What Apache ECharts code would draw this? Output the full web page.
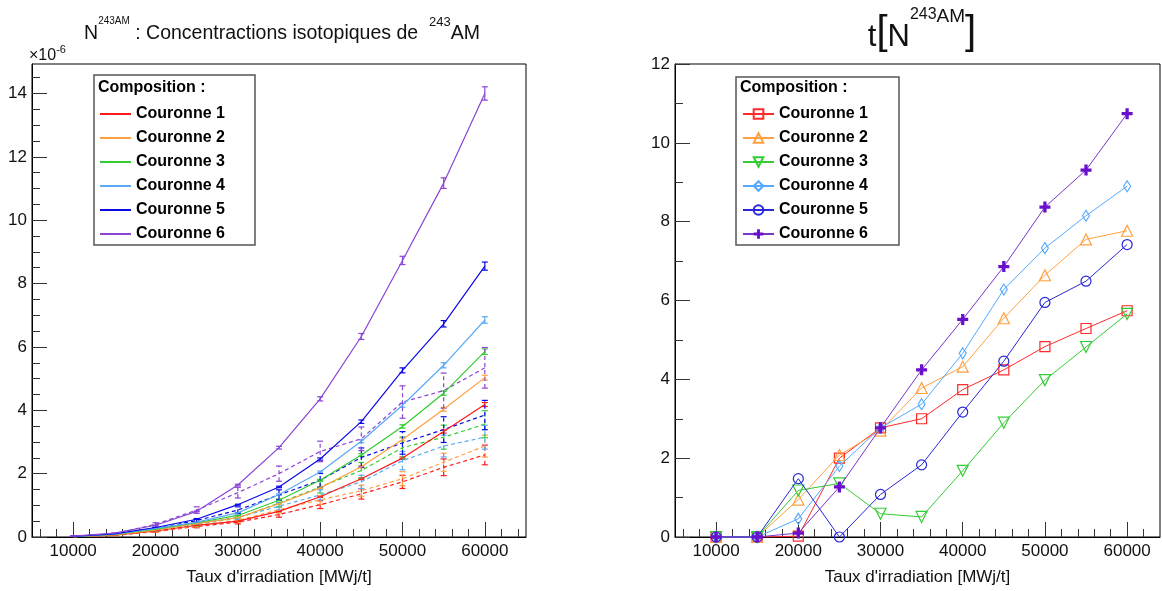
<!DOCTYPE html>
<html><head><meta charset="utf-8">
<script src="https://cdn.jsdelivr.net/npm/echarts@6/dist/echarts.min.js"></script>
<style>
html,body{margin:0;padding:0;background:#fff;width:1163px;height:591px;overflow:hidden}
#left{position:absolute;left:0;top:0;width:581px;height:591px}
#right{position:absolute;left:581px;top:0;width:582px;height:591px}
</style>
</head><body><div id="left"></div><div id="right"></div>
<script>
// ---------- DATA ----------
const irradiation = [10000, 15000, 20000, 25000, 30000, 35000, 40000, 45000, 50000, 55000, 60000];
const seriesNames = ['Couronne 1', 'Couronne 2', 'Couronne 3', 'Couronne 4', 'Couronne 5', 'Couronne 6'];
const xTickValues = [10000, 20000, 30000, 40000, 50000, 60000];
const yTickValuesLeft = [0, 2, 4, 6, 8, 10, 12, 14];
const yTickValuesRight = [0, 2, 4, 6, 8, 10, 12];

// Left: concentrations (x 1e-6), solid curves
const concC1 = [0.01, 0.06, 0.19, 0.37, 0.50, 0.81, 1.27, 1.84, 2.49, 3.33, 4.18];
const concC2 = [0.01, 0.07, 0.22, 0.42, 0.61, 1.05, 1.55, 2.22, 3.08, 4.03, 5.03];
const concC3 = [0.01, 0.08, 0.25, 0.45, 0.68, 1.16, 1.79, 2.59, 3.49, 4.54, 5.85];
const concC4 = [0.02, 0.09, 0.27, 0.47, 0.76, 1.34, 2.05, 3.02, 4.16, 5.42, 6.85];
const concC5 = [0.02, 0.10, 0.30, 0.56, 1.02, 1.58, 2.46, 3.64, 5.26, 6.73, 8.55];
const concC6 = [0.03, 0.12, 0.37, 0.81, 1.64, 2.82, 4.36, 6.33, 8.73, 11.17, 14.00];
// Left: dashed curves
const dashC1 = [0.01, 0.05, 0.17, 0.33, 0.47, 0.71, 1.02, 1.36, 1.74, 2.20, 2.59];
const dashC2 = [0.01, 0.05, 0.18, 0.36, 0.52, 0.86, 1.17, 1.46, 1.84, 2.36, 2.87];
const dashC3 = [0.01, 0.06, 0.21, 0.40, 0.60, 1.07, 1.58, 2.10, 2.82, 3.15, 3.56];
const dashC4 = [0.01, 0.06, 0.22, 0.42, 0.62, 0.97, 1.33, 1.74, 2.41, 2.87, 3.15];
const dashC5 = [0.02, 0.08, 0.27, 0.52, 0.85, 1.33, 1.79, 2.51, 2.97, 3.39, 3.85];
const dashC6 = [0.02, 0.10, 0.40, 0.85, 1.40, 2.00, 2.70, 3.10, 4.26, 4.62, 5.34];
const relErrSolid = 0.015;
const relErrDashed = 0.12;

// Right: t[N 243AM]
const tC1 = [0, 0, 0.02, 2.00, 2.77, 3.00, 3.74, 4.24, 4.83, 5.29, 5.74];
const tC2 = [0, 0, 0.95, 2.08, 2.70, 3.78, 4.32, 5.55, 6.64, 7.55, 7.77];
const tC3 = [0, 0, 1.18, 1.36, 0.59, 0.51, 1.68, 2.90, 3.98, 4.82, 5.66];
const tC4 = [0, 0, 0.46, 1.80, 2.77, 3.37, 4.66, 6.28, 7.33, 8.15, 8.90];
const tC5 = [0, 0, 1.48, 0.00, 1.08, 1.83, 3.17, 4.46, 5.95, 6.49, 7.42];
const tC6 = [0, 0, 0.10, 1.27, 2.77, 4.24, 5.52, 6.86, 8.37, 9.31, 10.74];

// ---------- STYLE ----------
const FONT = 'Liberation Sans, Arial, Helvetica, sans-serif';
const colorsLeft = ['#ff1a1a', '#ffa040', '#33cc33', '#5aaaf5', '#0a0ae6', '#8a44d6'];
const colorsRight = ['#ff2a2a', '#ffa040', '#33cc33', '#55aaff', '#2828d8', '#7a34cc'];
const markerColors = ['#ff2a2a', '#ffa040', '#33cc33', '#55aaff', '#2828d8', '#6a10cc'];

const concSolid = [concC1, concC2, concC3, concC4, concC5, concC6];
const concDash = [dashC1, dashC2, dashC3, dashC4, dashC5, dashC6];
const tSeries = [tC1, tC2, tC3, tC4, tC5, tC6];

function minorTicks(lo, hi, step, majors) {
  const out = [];
  for (let v = lo; v <= hi + 1e-9; v += step) {
    const r = Math.round(v * 1000) / 1000;
    if (!majors.includes(r)) out.push(r);
  }
  return out;
}

function makeAxes(min, max, majors, minors, isX, name) {
  const base = {
    type: 'value', min: min, max: max, splitLine: { show: false },
    axisLine: { show: true, onZero: false, lineStyle: { color: '#000', width: 1 } }
  };
  const major = Object.assign({}, base, {
    axisTick: { show: true, inside: true, length: 15, customValues: majors, lineStyle: { color: '#333', width: 1 } },
    axisLabel: { show: true, customValues: majors, formatter: v => String(v), fontSize: 17, color: '#111', fontFamily: FONT, margin: isX ? 6 : 5 }
  });
  if (name) {
    Object.assign(major, { name: name, nameLocation: 'middle', nameGap: 32, nameTextStyle: { fontSize: 17, color: '#111', fontFamily: FONT } });
  }
  const minor = Object.assign({}, base, {
    axisLine: { show: false },
    axisTick: { show: true, inside: true, length: 8, customValues: minors, lineStyle: { color: '#333', width: 1 } },
    axisLabel: { show: false }
  });
  if (isX) { major.position = 'bottom'; minor.position = 'bottom'; }
  else { major.position = 'left'; minor.position = 'left'; }
  return [major, minor];
}

function errorBarSeries(name, color, values, relErr, dashed) {
  return {
    type: 'custom', name: name, silent: true, z: 3,
    clip: true,
    data: irradiation.map((x, i) => [x, values[i] * (1 - relErr), values[i] * (1 + relErr)]),
    renderItem: function (params, api) {
      const x = api.value(0);
      const p1 = api.coord([x, api.value(1)]);
      const p2 = api.coord([x, api.value(2)]);
      const cap = 3;
      const st = { stroke: color, lineWidth: 1.2, lineDash: dashed ? [4, 3] : null };
      const cst = { stroke: color, lineWidth: 1.2 };
      return {
        type: 'group', children: [
          { type: 'line', shape: { x1: p1[0], y1: p1[1], x2: p2[0], y2: p2[1] }, style: st },
          { type: 'line', shape: { x1: p1[0] - cap, y1: p1[1], x2: p1[0] + cap, y2: p1[1] }, style: cst },
          { type: 'line', shape: { x1: p2[0] - cap, y1: p2[1], x2: p2[0] + cap, y2: p2[1] }, style: cst }
        ]
      };
    }
  };
}

const legendText = { fontSize: 16, fontWeight: 'bold', fontFamily: FONT, color: '#000', lineHeight: 24 };

// ---------- LEFT CHART ----------
const leftChart = echarts.init(document.getElementById('left'), null, { renderer: 'canvas' });
const xAxesL = makeAxes(5000, 65000, xTickValues, minorTicks(6000, 64000, 2000, xTickValues), true, "Taux d'irradiation [MWj/t]");
const yAxesL = makeAxes(0, 14.93, yTickValuesLeft, minorTicks(0.5, 14.5, 0.5, yTickValuesLeft), false, null);

const leftSeries = [];
seriesNames.forEach((nm, k) => {
  leftSeries.push({
    type: 'line', name: nm, data: irradiation.map((x, i) => [x, concSolid[k][i]]),
    symbol: 'none', lineStyle: { color: colorsLeft[k], width: 1.2 }, itemStyle: { color: colorsLeft[k] }, z: 4
  });
  leftSeries.push({
    type: 'line', name: nm + ' (b)', data: irradiation.map((x, i) => [x, concDash[k][i]]),
    symbol: 'none', lineStyle: { color: colorsLeft[k], width: 1.2, type: [4, 3] }, itemStyle: { color: colorsLeft[k] }, z: 3
  });
  leftSeries.push(errorBarSeries(nm + ' err', colorsLeft[k], concSolid[k], relErrSolid, false));
  leftSeries.push(errorBarSeries(nm + ' (b) err', colorsLeft[k], concDash[k], relErrDashed, true));
});

const titleBase = { fontFamily: FONT, color: '#111', fontWeight: 'normal' };

leftChart.setOption({
  animation: false,
  backgroundColor: '#fff',
  title: {
    left: 277, top: 11, textAlign: 'center',
    text: '{a|N}{s|243AM}{a| : Concentractions isotopiques de  }{s2|243}{a|AM}',
    textStyle: {
      fontWeight: 'normal',
      rich: {
        a: Object.assign({ fontSize: 19.5, lineHeight: 28, verticalAlign: 'bottom' }, titleBase),
        s: Object.assign({ fontSize: 10, lineHeight: 12, verticalAlign: 'top' }, titleBase),
        s2: Object.assign({ fontSize: 13, lineHeight: 15, verticalAlign: 'top' }, titleBase)
      }
    }
  },
  grid: { left: 32, right: 55, top: 64, bottom: 45, show: true, borderColor: '#000', borderWidth: 1, backgroundColor: 'transparent' },
  xAxis: xAxesL,
  yAxis: yAxesL,
  legend: {
    orient: 'vertical', left: 100, top: 102, z: 12, padding: 0,
    itemWidth: 31, itemHeight: 2, itemGap: 0, icon: 'rect',
    data: seriesNames,
    textStyle: legendText,
    selectedMode: false
  },
  graphic: [
    { type: 'rect', z: 10, shape: { x: 94, y: 75, width: 161, height: 170 }, style: { fill: '#fff', stroke: '#555', lineWidth: 1.5 } },
    { type: 'text', z: 11, x: 98, y: 88, style: { text: 'Composition :', font: 'bold 16px ' + FONT, fill: '#000', textVerticalAlign: 'middle' } },
    { type: 'text', z: 11, x: 29, y: 44, style: { rich: { a: { fontSize: 16, fontFamily: FONT, fill: '#111', lineHeight: 20, verticalAlign: 'bottom' }, b: { fontSize: 11, fontFamily: FONT, fill: '#111', lineHeight: 12, verticalAlign: 'top' } }, text: '{a|×10}{b|-6}' } }
  ],
  series: leftSeries
});

// ---------- RIGHT CHART ----------
const rightChart = echarts.init(document.getElementById('right'), null, { renderer: 'canvas' });
const xAxesR = makeAxes(5000, 64000, xTickValues, minorTicks(6000, 62000, 2000, xTickValues), true, "Taux d'irradiation [MWj/t]");
const yAxesR = makeAxes(0, 12, yTickValuesRight, minorTicks(1, 11, 1, yTickValuesRight), false, null);

const plusPath = 'path://M3.5,0H6.5V3.5H10V6.5H6.5V10H3.5V6.5H0V3.5H3.5Z';
const markerDefs = [
  { symbol: 'rect', size: 10, rotate: 0, filled: false },
  { symbol: 'triangle', size: 11, rotate: 0, filled: false },
  { symbol: 'triangle', size: 11, rotate: 180, filled: false },
  { symbol: 'diamond', size: [7, 11], rotate: 0, filled: false },
  { symbol: 'circle', size: 10, rotate: 0, filled: false },
  { symbol: plusPath, size: 11, rotate: 0, filled: true }
];
const rightSeries = seriesNames.map((nm, k) => ({
  type: 'line', name: nm, data: irradiation.map((x, i) => [x, tSeries[k][i]]),
  symbol: markerDefs[k].symbol, symbolSize: markerDefs[k].size, symbolRotate: markerDefs[k].rotate,
  showAllSymbol: true, clip: false,
  lineStyle: { color: colorsRight[k], width: 1 },
  itemStyle: markerDefs[k].filled
    ? { color: markerColors[k], borderWidth: 0 }
    : { color: 'rgba(255,255,255,0)', borderColor: markerColors[k], borderWidth: 1.2 },
  z: 3 + k
}));

rightChart.setOption({
  animation: false,
  backgroundColor: '#fff',
  title: {
    left: 336, top: 2, textAlign: 'center',
    text: '{t|t}{b|[}{t|N}{s|243}{m|AM}{b|]}',
    textStyle: {
      fontWeight: 'normal',
      rich: {
        t: Object.assign({ fontSize: 31, lineHeight: 40, verticalAlign: 'bottom' }, titleBase),
        b: Object.assign({ fontSize: 40, lineHeight: 46, verticalAlign: 'bottom' }, titleBase),
        s: Object.assign({ fontSize: 16, lineHeight: 28, verticalAlign: 'top' }, titleBase),
        m: Object.assign({ fontSize: 19, lineHeight: 28, verticalAlign: 'top' }, titleBase)
      }
    }
  },
  grid: { left: 94, right: 3, top: 64, bottom: 45, show: true, borderColor: '#000', borderWidth: 1, backgroundColor: 'transparent' },
  xAxis: xAxesR,
  yAxis: yAxesR,
  legend: {
    orient: 'vertical', left: 161, top: 102, z: 12, padding: 0,
    itemWidth: 31, itemHeight: 12, itemGap: 0,
    data: seriesNames,
    textStyle: legendText,
    selectedMode: false
  },
  graphic: [
    { type: 'rect', z: 10, shape: { x: 155, y: 77, width: 163, height: 168 }, style: { fill: '#fff', stroke: '#555', lineWidth: 1.5 } },
    { type: 'text', z: 11, x: 159, y: 88, style: { text: 'Composition :', font: 'bold 16px ' + FONT, fill: '#000', textVerticalAlign: 'middle' } }
  ],
  series: rightSeries
});
</script>
</body></html>
